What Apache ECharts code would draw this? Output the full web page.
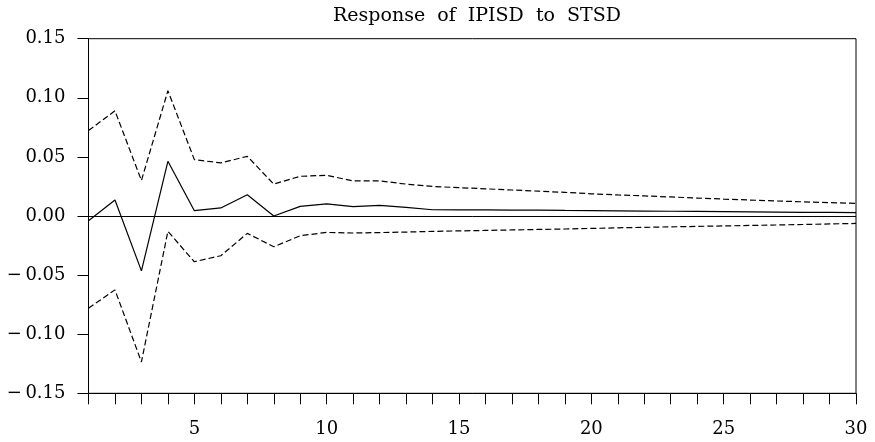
<!DOCTYPE html>
<html>
<head>
<meta charset="utf-8">
<script src="https://cdn.jsdelivr.net/npm/echarts@6/dist/echarts.min.js"></script>
<style>html,body{margin:0;padding:0;background:#fff}#c{width:875px;height:442px}</style>
</head>
<body>
<div id="c"></div>
<script>
const categories = Array.from({length: 30}, (_, i) => String(i + 1));
const response = [-0.004, 0.0136, -0.0464, 0.0463, 0.0045, 0.0068, 0.018, 0.0, 0.0081, 0.0102,
  0.0079, 0.009, 0.0073, 0.0053, 0.0052, 0.0051, 0.0050, 0.0049, 0.0047, 0.0046,
  0.0044, 0.0042, 0.0040, 0.0039, 0.0037, 0.0035, 0.0033, 0.0031, 0.0030, 0.0028];
const upper = [0.0723, 0.089, 0.030, 0.106, 0.0477, 0.0449, 0.0505, 0.027, 0.0336, 0.0344,
  0.0297, 0.0297, 0.027, 0.025, 0.0240, 0.0230, 0.0220, 0.0210, 0.0200, 0.0188,
  0.0178, 0.0170, 0.0161, 0.0152, 0.0143, 0.0135, 0.0127, 0.0120, 0.0113, 0.0107];
const lower = [-0.078, -0.0625, -0.1235, -0.013, -0.0387, -0.0336, -0.0147, -0.026, -0.0167, -0.0139,
  -0.0144, -0.014, -0.0136, -0.013, -0.0126, -0.0122, -0.0118, -0.0114, -0.0110, -0.0105,
  -0.0100, -0.0096, -0.0092, -0.0088, -0.0084, -0.0080, -0.0076, -0.0072, -0.0067, -0.0063];
const titleText = 'Response  of  IPISD  to  STSD';

const font = 'DejaVu Serif';
const chart = echarts.init(document.getElementById('c'), null, {renderer: 'canvas'});
chart.setOption({
  animation: false,
  title: {
    text: titleText, left: 472, top: 2, textAlign: 'center',
    textStyle: {fontFamily: font, fontWeight: 'normal', fontSize: 19, color: '#000'}
  },
  grid: {left: 88.5, right: 19, top: 38.7, bottom: 48.7, show: true, borderColor: '#000', borderWidth: 1},
  xAxis: {
    type: 'category', data: categories, boundaryGap: false,
    axisLine: {onZero: false, lineStyle: {color: '#000', width: 1}},
    axisTick: {show: true, interval: 0, length: 11, inside: false, lineStyle: {color: '#000'}},
    axisLabel: {
      interval: (i) => (i + 1) % 5 === 0,
      margin: 27, color: '#000', fontFamily: font, fontSize: 18
    },
    splitLine: {show: false}
  },
  yAxis: {
    type: 'value', min: -0.15, max: 0.15, interval: 0.05,
    axisLine: {show: true, lineStyle: {color: '#000', width: 1}},
    axisTick: {show: true, length: 11, lineStyle: {color: '#000'}},
    axisLabel: {
      margin: 23, color: '#000', fontFamily: font, fontSize: 18,
      formatter: (v) => (v < -1e-9 ? '\u2212\u2009' : '') + Math.abs(v).toFixed(2)
    },
    splitLine: {show: false}
  },
  series: [
    {
      type: 'line', data: response, symbol: 'none',
      lineStyle: {color: '#000', width: 1.2},
      markLine: {
        silent: true, symbol: 'none', label: {show: false},
        lineStyle: {color: '#000', width: 1, type: 'solid'},
        data: [{yAxis: 0}]
      }
    },
    {type: 'line', data: upper, symbol: 'none', lineStyle: {color: '#000', width: 1.2, type: [6, 3]}},
    {type: 'line', data: lower, symbol: 'none', lineStyle: {color: '#000', width: 1.2, type: [6, 3]}}
  ]
});
</script>
</body>
</html>
